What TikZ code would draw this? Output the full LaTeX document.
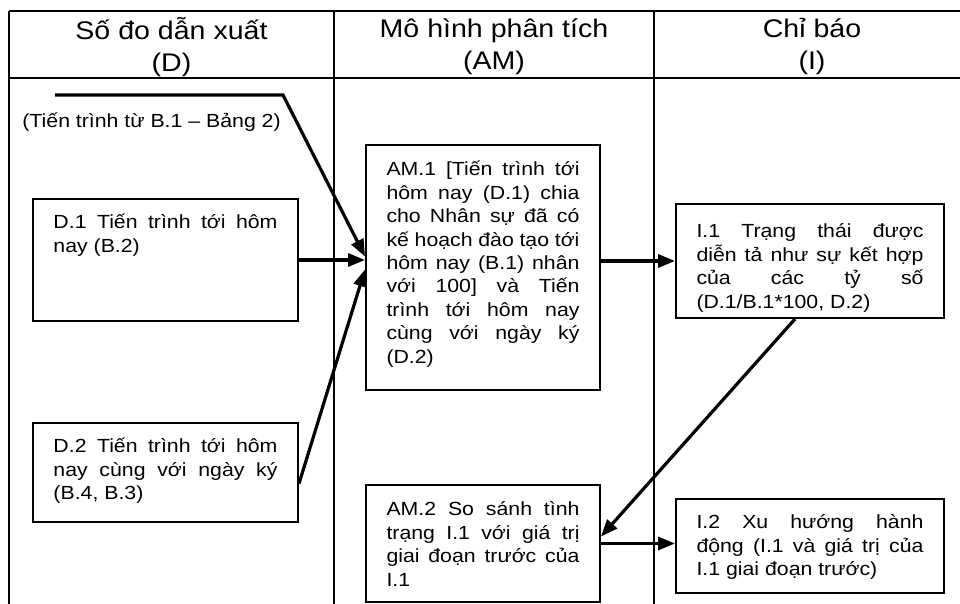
\documentclass[tikz,border=0pt]{standalone}
\usepackage{fontspec}
\setmainfont{Liberation Sans}[FakeStretch=1.12]
\usetikzlibrary{arrows.meta, calc}

\begin{document}
\begin{tikzpicture}[
    x=0.5pt, y=-0.5pt,
    box/.style={draw, line width=1pt, rectangle, anchor=north west, align=justify, inner xsep=10.25pt, inner ysep=0pt,
        font={\fontsize{9.5}{11.7}\selectfont\tolerance=10000\relax\hbadness=10000\relax\hyphenpenalty=10000\relax}},
    head/.style={align=center, inner sep=0pt, font=\fontsize{12.75}{16}\selectfont},
    arrow/.style={-{Triangle[length=8.5pt, width=6.5pt]}, line width=1.6pt},
    rule/.style={line width=0.6pt}
]
\useasboundingbox (0,0) rectangle (960,604);

% Table
\draw[rule] (9,11) -- (960,11);
\draw[rule] (9,78) -- (960,78);
\draw[rule] (9,11) -- (9,604);
\draw[rule] (334,11) -- (334,604);
\draw[rule] (654,11) -- (654,604);

% Headers
\node[head] (hd) at (171.5,47) {Số đo dẫn xuất\\(D)};
\node[head] (ham) at (494,47) {Mô hình phân tích\\(AM)};
\node[head] (hi) at (812,47) {Chỉ báo\\(I)};

% Nodes
\node[anchor=base west, inner sep=0pt, font=\fontsize{9.5}{11.7}\selectfont] (src) at (22,128) {(Tiến trình từ B.1 – Bảng 2)};
\node[box, text width=112pt, text height=15pt, text depth=46pt] (d1) at (32,198)
    {D.1 Tiến trình tới hôm\linebreak nay (B.2)};
\node[box, text width=112pt, text height=15pt, text depth=34.5pt] (d2) at (32,422)
    {D.2 Tiến trình tới hôm\linebreak nay cùng với ngày ký\linebreak (B.4, B.3)};
\node[box, text width=96.5pt, text height=15.5pt, text depth=107pt] (am1) at (365,144)
    {AM.1 [Tiến trình tới\linebreak hôm nay (D.1) chia\linebreak cho Nhân sự đã có\linebreak kế hoạch đào tạo tới\linebreak hôm nay (B.1) nhân\linebreak với 100] và Tiến\linebreak trình tới hôm nay\linebreak cùng với ngày ký\linebreak (D.2)};
\node[box, text width=96.5pt, text height=15.5pt, text depth=43pt] (am2) at (365,484)
    {AM.2 So sánh tình\linebreak trạng I.1 với giá trị\linebreak giai đoạn trước của\linebreak I.1};
\node[box, text width=113.5pt, text height=17pt, text depth=40pt] (i1) at (675,203)
    {I.1 Trạng thái được\linebreak diễn tả như sự kết hợp\linebreak của các tỷ số\linebreak (D.1/B.1*100, D.2)};
\node[box, text width=113.5pt, text height=15pt, text depth=32pt] (i2) at (675,498)
    {I.2 Xu hướng hành\linebreak động (I.1 và giá trị của\linebreak I.1 giai đoạn trước)};

% Arrows
\coordinate (s0) at (55,95);
\coordinate (s1) at (283,95);
\draw[arrow] (s0) -- (s1) -- ($(am1.west)+(0,-11)$);
\draw[arrow] (d1.east) -- (d1.east -| am1.west);
\draw[arrow] ($(d2.east)+(0,11)$) -- ($(am1.west)+(0,2)$);
\draw[arrow] (i1.west -| am1.east) -- (i1.west);
\draw[arrow] ($(i1.south)+(-15,0)$) -- ($(am2.east)+(0,-7)$);
\draw[arrow] (am2.east) -- (am2.east -| i2.west);

\end{tikzpicture}
\end{document}
